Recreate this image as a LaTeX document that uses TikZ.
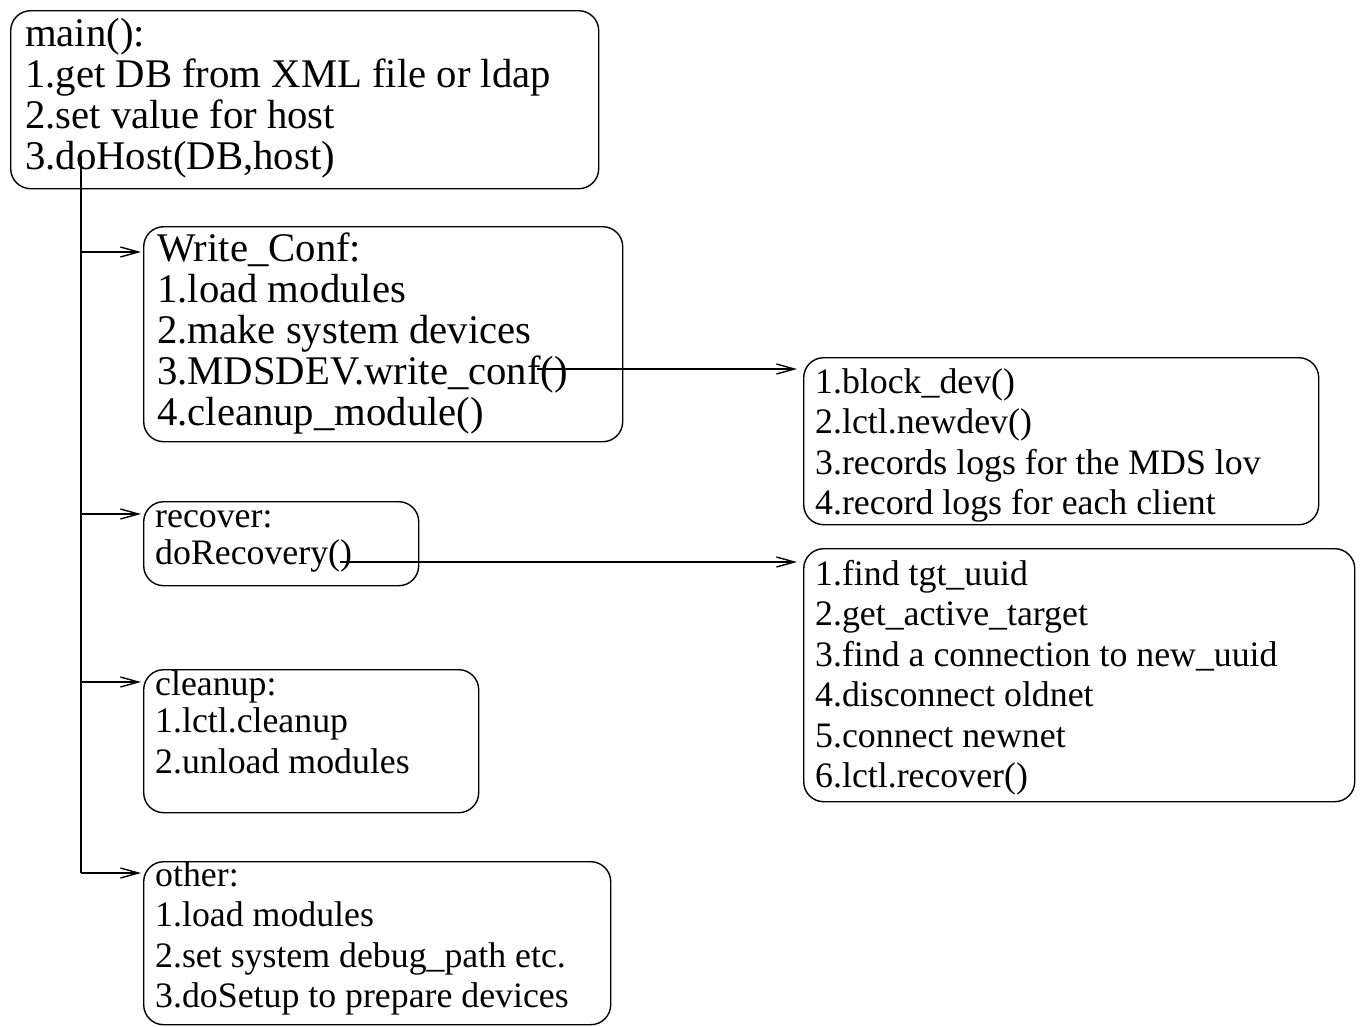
\documentclass[tikz,border=0pt]{standalone}
\usepackage{fontspec}
\setmainfont{Liberation Serif}
\usetikzlibrary{arrows.meta,calc}
\tikzset{
  box/.style={draw, line width=1.4pt, rounded corners=20pt, inner sep=0pt, anchor=north west},
  bigtxt/.style={font=\fontsize{40.7}{41}\selectfont, anchor=base west, inner sep=0pt, text width=900pt, align=flush left},
  smalltxt/.style={font=\fontsize{35.8}{40.5}\selectfont, anchor=base west, inner sep=0pt, text width=900pt, align=flush left},
  conn/.style={line width=1.4pt},
  arr/.style={line width=1.4pt, -{Straight Barb[length=18pt,width=10pt]}}
}
\begin{document}
\begin{tikzpicture}[x=1pt,y=-1pt]
\useasboundingbox (0,0) rectangle (1360,1026);
% boxes
\node[box, minimum width=588pt, minimum height=178pt] (main) at (10,10) {};
\node[box, minimum width=479pt, minimum height=215pt] (wc) at (143,226) {};
\node[box, minimum width=515pt, minimum height=167pt] (bd) at (803,357) {};
\node[box, minimum width=275pt, minimum height=84pt] (rec) at (143,501) {};
\node[box, minimum width=551pt, minimum height=253pt] (rv) at (803,548) {};
\node[box, minimum width=335pt, minimum height=143pt] (cl) at (143,669) {};
\node[box, minimum width=467pt, minimum height=163pt] (ot) at (143,861) {};
% texts
\node[bigtxt] (mainT) at (25,46) {main():\\1.get DB from XML file or ldap\\2.set value for host\\3.doHost(DB,host)};
\node[bigtxt] (wcT) at (157,261) {Write\_Conf:\\1.load modules\\2.make system devices\\3.MDSDEV.write\_conf()\\4.cleanup\_module()};
\node[smalltxt] (bdT) at (815,393) {1.block\_dev()\\2.lctl.newdev()\\3.records logs for the MDS lov\\4.record logs for each client};
\node[smalltxt] (recT) at (155,527) {recover:\\[-3pt]doRecovery()};
\node[smalltxt] (rvT) at (815,585) {1.find tgt\_uuid\\2.get\_active\_target\\3.find a connection to new\_uuid\\4.disconnect oldnet\\5.connect newnet\\6.lctl.recover()};
\node[smalltxt] (clT) at (155,695) {cleanup:\\[-3pt]1.lctl.cleanup\\2.unload modules};
\node[smalltxt] (otT) at (155,886) {other:\\1.load modules\\2.set system debug\_path etc.\\3.doSetup to prepare devices};
% connector coordinates
\coordinate (trunk) at (81,156);
\coordinate (trunkEnd) at (81,873);
\coordinate (wcIn) at (141,252);
\coordinate (recIn) at (141,514);
\coordinate (clIn) at (141,682);
\coordinate (otIn) at (141,873);
\coordinate (wcOut) at (537,369);
\coordinate (bdIn) at (797,369);
\coordinate (recOut) at (340,562);
\coordinate (rvIn) at (797,562);
% connectors
\draw[conn] (trunk) -- (trunkEnd);
\draw[arr] (trunk |- wcIn) -- (wcIn);
\draw[arr] (trunk |- recIn) -- (recIn);
\draw[arr] (trunk |- clIn) -- (clIn);
\draw[arr] (trunkEnd) -- (otIn);
\draw[arr] (wcOut) -- (bdIn);
\draw[arr] (recOut) -- (rvIn);
\end{tikzpicture}
\end{document}
